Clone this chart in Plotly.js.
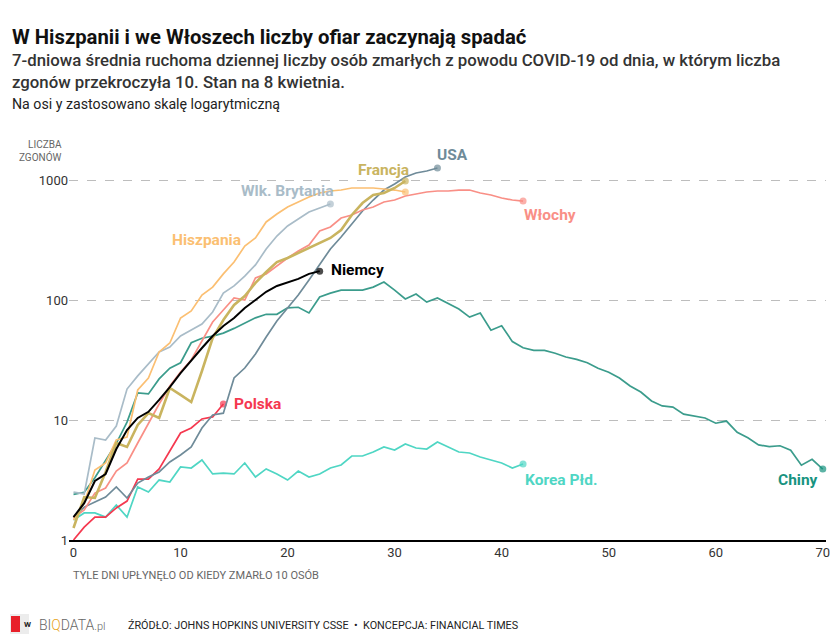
<!DOCTYPE html>
<html><head><meta charset="utf-8">
<script src="https://cdn.plot.ly/plotly-3.0.1.min.js"></script>
<style>body{margin:0;background:#fff}#chart{width:835px;height:642px}</style>
</head><body><div id="chart"></div>
<script>
// Daily deaths (7-day rolling average) by days since 10th death
const china=[2.4,2.5,3.3,4.6,6.4,9.6,16.8,16.5,22,27,30,44,48,50,53,58,64,71,76,76,86,87,78,106,114,121,121,121,128,141,121,102,112,96,104,94,84,72,78,56,61,45,40,38,38,36,33.5,32,30,27,25,22.4,19.2,17.1,14.4,13.1,12.8,11.2,10.8,10.4,9.4,9.8,7.9,7.1,6.2,6.0,6.1,5.6,4.2,4.7,3.9];
const korea=[1.47,1.68,1.68,1.55,1.96,1.55,2.77,2.51,3.16,3.04,4.06,3.98,4.64,3.55,3.61,3.55,4.38,3.35,3.91,3.55,3.16,3.76,3.35,3.55,3.98,4.22,5.01,5.01,5.41,5.96,5.62,6.31,5.84,5.73,6.56,5.96,5.41,5.31,4.92,4.64,4.38,3.98,4.30];
const poland=[1.0,1.28,1.55,1.55,1.85,2.11,3.22,3.22,3.91,5.52,7.79,8.58,10.2,10.6,13.6];
const usa=[1.55,1.88,2.07,2.28,2.77,2.24,2.98,3.35,3.69,4.47,5.11,5.96,8.58,11.0,11.4,22.4,27.1,35.5,49.2,66.8,85.8,110,147,196,266,335,430,552,681,825,926,1059,1143,1189,1259];
const germany=[1.55,2.03,3.10,3.55,5.73,8.25,10.4,11.7,14.7,18.8,24.6,31.6,39.8,50.1,60.7,70.8,85.8,100,117,131,141,150,165,174];
const spain=[1.47,2.03,3.83,4.38,6.81,7.21,17.8,22.4,36.9,43.8,70.8,81,110,128,165,207,282,329,447,521,596,656,722,779,810,825,858,858,858,841,825,794];
const uk=[2.51,2.42,7.08,6.81,8.91,18.1,23.3,29.3,36.9,40.6,50.1,56.2,63.1,79.4,114,131,158,196,266,341,414,473,541,585,631];
const italy=[1.53,1.78,2.46,2.71,3.76,4.38,6.43,9.44,13.6,19.2,25.1,31.6,45.5,65.6,82.5,104,100,153,165,192,224,256,287,376,406,482,511,562,596,656,681,736,764,794,810,810,825,825,779,750,708,681,668];
const france=[1.26,2.28,2.24,3.69,6.43,5.96,9.09,11.4,10.4,18.5,16.2,14.1,25.6,48.2,68.1,90.9,108,139,171,207,224,246,271,299,329,383,511,643,750,779,858,981];

const xTicks=[0,10,20,30,40,50,60,70];
const yTicks=[1,10,100,1000];
const yTickText=['1','10','100','1000'];

const series=[
  {name:'Korea Płd.', y:korea,   color:'#4fd6c4', width:1.7},
  {name:'Chiny',      y:china,   color:'#3b9c8c', width:1.7, dot:'#17937f'},
  {name:'Polska',     y:poland,  color:'#f5384f', width:1.7},
  {name:'USA',        y:usa,     color:'#6f8b99', width:1.7},
  {name:'Włochy',     y:italy,   color:'#f98f86', width:1.7},
  {name:'Wlk. Brytania', y:uk,   color:'#a9bcc8', width:1.7},
  {name:'Hiszpania',  y:spain,   color:'#fbbf72', width:1.7},
  {name:'Francja',    y:france,  color:'#c9b45f', width:2.6},
  {name:'Niemcy',     y:germany, color:'#000000', width:2}
];

const traces=series.map(s=>({
  type:'scatter', mode:'lines+markers', name:s.name,
  x:s.y.map((_,i)=>i), y:s.y,
  line:{color:s.color,width:s.width,shape:'linear'},
  marker:{color:s.dot||s.color,size:s.y.map((_,i)=>i===s.y.length-1?7:0),line:{width:0}},
  cliponaxis:false, hoverinfo:'skip', showlegend:false
}));

const L=69,R=9,T=144,B=102,W=835,H=642;
const pw=W-L-R, ph=H-T-B;
const px=x=>(x-L)/pw;
const py=y=>(H-B-y)/ph;
const lg=Math.log10;

function lab(text,x,y,color,anchor){
  return {text:text,x:x,y:lg(y),xref:'x',yref:'y',showarrow:false,xanchor:anchor||'center',yanchor:'middle',
    font:{family:'Roboto, sans-serif',size:15.5,color:color,weight:'bold'}};
}

const annotations=[
  {text:'W Hiszpanii i we Włoszech liczby ofiar zaczynają spadać',xref:'paper',yref:'paper',x:px(10),y:py(37),xanchor:'left',yanchor:'middle',showarrow:false,
   font:{family:'Roboto, sans-serif',size:20.3,color:'#111',weight:'bold'}},
  {text:'7-dniowa średnia ruchoma dziennej liczby osób zmarłych z powodu COVID-19 od dnia, w którym liczba<br>zgonów przekroczyła 10. Stan na 8 kwietnia.',xref:'paper',yref:'paper',x:px(10),y:py(70.5),xanchor:'left',yanchor:'middle',align:'left',showarrow:false,
   font:{family:'Roboto, sans-serif',size:16.8,color:'#333',weight:500}},
  {text:'Na osi y zastosowano skalę logarytmiczną',xref:'paper',yref:'paper',x:px(10),y:py(104),xanchor:'left',yanchor:'middle',showarrow:false,
   font:{family:'Roboto, sans-serif',size:14.2,color:'#222'}},
  {text:'LICZBA<br>ZGONÓW',xref:'paper',yref:'paper',x:px(64),y:py(151),xanchor:'right',yanchor:'middle',align:'right',showarrow:false,
   font:{family:'Roboto, sans-serif',size:10,color:'#666'}},
  {text:'TYLE DNI UPŁYNĘŁO OD KIEDY ZMARŁO 10 OSÓB',xref:'paper',yref:'paper',x:px(71),y:py(575),xanchor:'left',yanchor:'middle',showarrow:false,
   font:{family:'Roboto, sans-serif',size:11,color:'#666'}},
  {text:'BI<span style="color:#e8a317">Q</span>DATA<span style="font-size:11px">.pl</span>',xref:'paper',yref:'paper',x:px(37),y:py(625),xanchor:'left',yanchor:'middle',showarrow:false,
   font:{family:'Roboto, sans-serif',size:14,color:'#666',weight:300}},
  {text:'W',xref:'paper',yref:'paper',x:px(22),y:py(624),xanchor:'left',yanchor:'middle',showarrow:false,
   font:{family:'Roboto, sans-serif',size:8,color:'#222',weight:'bold'}},
  {text:'ŹRÓDŁO: JOHNS HOPKINS UNIVERSITY CSSE  •  KONCEPCJA: FINANCIAL TIMES',xref:'paper',yref:'paper',x:px(126),y:py(625),xanchor:'left',yanchor:'middle',showarrow:false,
   font:{family:'Roboto, sans-serif',size:10.8,color:'#222'}},
  lab('USA',35.4,Math.pow(10,3.208),'#6f8b99'),
  lab('Francja',29.0,Math.pow(10,3.083),'#c9b45f'),
  lab('Wlk. Brytania',19.9,Math.pow(10,2.908),'#a9bcc8'),
  lab('Hiszpania',12.4,Math.pow(10,2.5),'#fbbf72'),
  lab('Niemcy',23.9,Math.pow(10,2.25),'#000000','left'),
  lab('Włochy',44.5,Math.pow(10,2.708),'#f98f86'),
  lab('Polska',14.8,Math.pow(10,1.133),'#f5384f','left'),
  lab('Korea Płd.',45.5,Math.pow(10,0.5),'#4fd6c4'),
  lab('Chiny',69.7,Math.pow(10,0.5),'#17937f','right')
];

const shapes=[
  {type:'rect',xref:'paper',yref:'paper',x0:px(10),x1:px(29),y0:py(614),y1:py(634),fillcolor:'#ececec',line:{width:0}},
  {type:'rect',xref:'paper',yref:'paper',x0:px(11),x1:px(20),y0:py(616),y1:py(632),fillcolor:'#e8202a',line:{width:0}}
];

const layout={
  width:W,height:H,
  margin:{l:L,r:R,t:T,b:B,pad:0},
  paper_bgcolor:'#fff',plot_bgcolor:'#fff',
  font:{family:'Roboto, sans-serif',color:'#222'},
  xaxis:{range:[-0.42,70.3],tickvals:xTicks,showgrid:false,zeroline:false,showline:true,linecolor:'#000',linewidth:1.5,ticks:'',
    tickfont:{size:13,color:'#333'},fixedrange:true},
  yaxis:{type:'log',range:[0,3.3],tickvals:yTicks,ticktext:yTickText,showgrid:true,gridcolor:'#bdbdbd',griddash:'dash',gridwidth:1,
    zeroline:false,showline:false,ticks:'',tickfont:{size:13,color:'#333'},fixedrange:true},
  annotations:annotations,
  shapes:shapes,
  showlegend:false
};

Plotly.newPlot('chart',traces,layout,{displayModeBar:false,staticPlot:true});
</script></body></html>
